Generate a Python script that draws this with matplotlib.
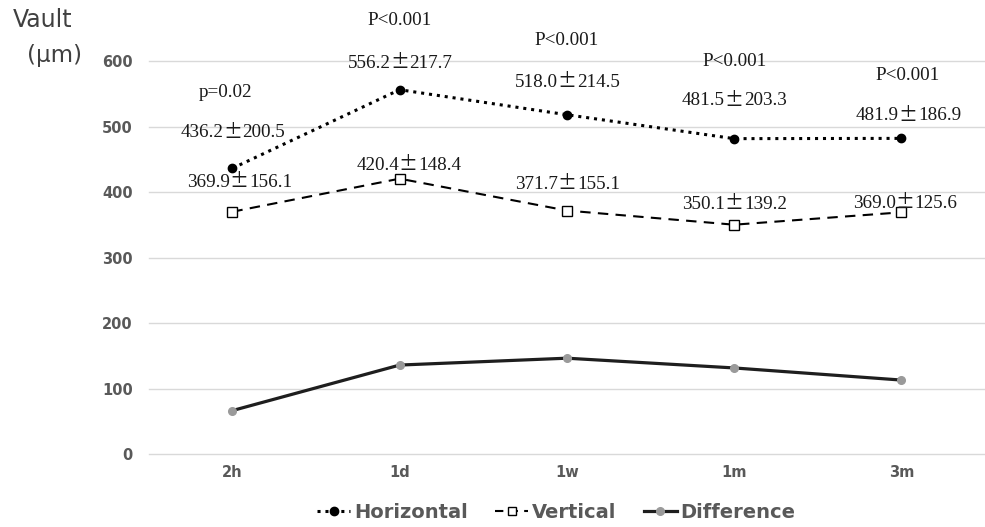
import matplotlib
matplotlib.use("Agg")
import matplotlib.pyplot as plt
from matplotlib.lines import Line2D

categories = ["2h", "1d", "1w", "1m", "3m"]
horizontal = [436.2, 556.2, 518.0, 481.5, 481.9]
horizontal_sd = [200.5, 217.7, 214.5, 203.3, 186.9]
vertical = [369.9, 420.4, 371.7, 350.1, 369.0]
vertical_sd = [156.1, 148.4, 155.1, 139.2, 125.6]
difference = [66.3, 135.8, 146.3, 131.4, 112.9]
p_labels = ["p=0.02", "P<0.001", "P<0.001", "P<0.001", "P<0.001"]
y_ticks = [0, 100, 200, 300, 400, 500, 600]

# label layout (data-unit y positions, x offsets in category units)
p_y = [552, 662, 632, 600, 579]
h_lab_y = [491, 597, 568, 540, 517]
v_lab_y = [416, 442, 413, 382, 384]
p_dx = [-0.04, 0, 0, 0, 0.04]
h_dx = [0, 0, 0, 0, 0.04]
v_dx = [0.04, 0.05, 0, 0, 0.02]

fig = plt.figure(figsize=(9.85, 5.27), dpi=100)
ax = fig.add_axes([0.151, 0.1385, 0.849, 0.7457])
x = list(range(len(categories)))

ax.plot(x, horizontal, linestyle=(0, (1, 1.6)), color="black", lw=2.2,
        marker="o", markersize=6, markerfacecolor="black", markeredgecolor="black", zorder=3)
ax.plot(x, vertical, linestyle=(0, (5, 3.5)), color="black", lw=1.5,
        marker="s", markersize=6.5, markerfacecolor="white", markeredgecolor="black",
        markeredgewidth=1.0, zorder=3)
ax.plot(x, difference, linestyle="-", color="#1e1e1e", lw=2.3,
        marker="o", markersize=5.5, markerfacecolor="#9a9a9a", markeredgecolor="#9a9a9a", zorder=3)

ax.set_xlim(-0.5, len(categories) - 0.5)
ax.set_ylim(0, 600)
ax.set_yticks(y_ticks)
ax.set_xticks(x)
ax.set_xticklabels(categories)
ax.grid(axis="y", color="#d9d9d9", lw=1.0)
for gl in ax.get_ygridlines():
    gl.set_clip_on(False)
ax.set_axisbelow(True)
for s in ax.spines.values():
    s.set_visible(False)
ax.tick_params(length=0, colors="#595959", labelsize=10.5)
ax.tick_params(axis="y", pad=11.5)
ax.tick_params(axis="x", pad=8)
for lab in ax.get_xticklabels() + ax.get_yticklabels():
    lab.set_fontweight("bold")
    lab.set_color("#595959")

serif = "Liberation Serif"
fs = 13.8
tc = "#1a1a1a"
BASE = -3.6  # points from visual centre to baseline


def pm_label(xc, yc, mean, sd):
    ax.annotate("±", (xc, yc), xytext=(0, BASE - 0.3), textcoords="offset points",
                ha="center", va="baseline", fontsize=13.5, annotation_clip=False,
                family=["Noto Sans CJK JP", "DejaVu Sans"], color=tc)
    ax.annotate(f"{mean:.1f}", (xc, yc), xytext=(-6.5, BASE), textcoords="offset points",
                ha="right", va="baseline", fontsize=fs, family=serif, color=tc,
                annotation_clip=False)
    ax.annotate(f"{sd:.1f}", (xc, yc), xytext=(7.2, BASE), textcoords="offset points",
                ha="left", va="baseline", fontsize=fs, family=serif, color=tc,
                annotation_clip=False)


for i in x:
    ax.annotate(p_labels[i], (i + p_dx[i], p_y[i]), xytext=(0, BASE), textcoords="offset points",
                ha="center", va="baseline", fontsize=fs, family=serif, color=tc,
                annotation_clip=False)
    pm_label(i + h_dx[i], h_lab_y[i], horizontal[i], horizontal_sd[i])
    pm_label(i + v_dx[i], v_lab_y[i], vertical[i], vertical_sd[i])

fig.text(0.013, 0.962, "Vault", fontsize=17, color="#404040", ha="left", va="center")
fig.text(0.027, 0.895, "(μm)", fontsize=16.5, color="#404040", ha="left", va="center")

handles = [
    Line2D([], [], linestyle=(0, (1, 1.6)), color="black", lw=2.2, marker="o",
           markersize=6, markerfacecolor="black"),
    Line2D([], [], linestyle=(0, (4, 3)), color="black", lw=1.5, marker="s",
           markersize=5.5, markerfacecolor="white", markeredgecolor="black"),
    Line2D([], [], linestyle="-", color="#1e1e1e", lw=2.3, marker="o",
           markersize=5.5, markerfacecolor="#9a9a9a", markeredgecolor="#9a9a9a"),
]
leg = fig.legend(handles, ["Horizontal", "Vertical", "Difference"], loc="center",
                 bbox_to_anchor=(0.565, 0.027), ncol=3, frameon=False,
                 prop={"size": 14, "weight": "bold"}, handlelength=1.7,
                 handletextpad=0.2, columnspacing=1.4)
for t in leg.get_texts():
    t.set_color("#595959")

fig.savefig("out.png", dpi=100)
